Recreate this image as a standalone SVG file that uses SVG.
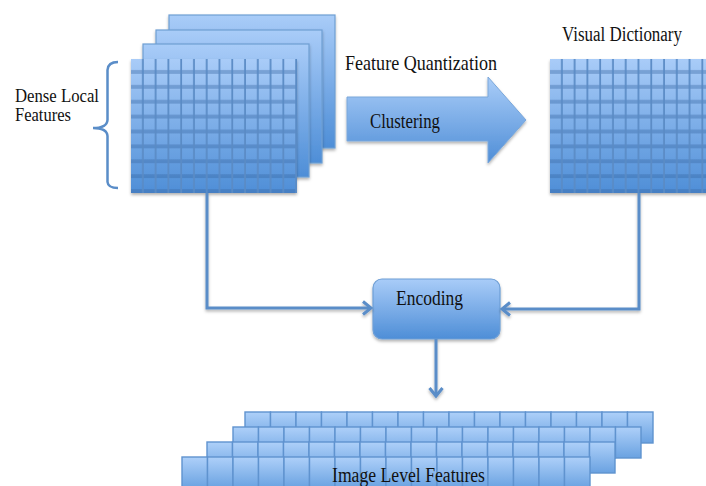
<svg xmlns="http://www.w3.org/2000/svg" xmlns:xlink="http://www.w3.org/1999/xlink" width="706" height="486" viewBox="0 0 706 486">
<style>
.lbl{font-family:"Liberation Serif","Times New Roman",serif;font-size:20px;fill:#111}
.conn{fill:none;stroke:#5a8dc8;stroke-width:3}
.sheet{fill:url(#gSheet);stroke:#6f9fd3;stroke-width:1.2}
.cell{fill:url(#gCell);stroke:#5f93cf;stroke-width:1.4}
</style>
<defs>
<linearGradient id="gSheet" x1="0" y1="0" x2="0" y2="1">
<stop offset="0" stop-color="#a9ccf8"/>
<stop offset="1" stop-color="#4e8ed7"/>
</linearGradient>
<linearGradient id="gCell" x1="0" y1="0" x2="0" y2="1">
<stop offset="0" stop-color="#aed0f9"/>
<stop offset="1" stop-color="#6aa2e1"/>
</linearGradient>
<linearGradient id="gArrow" x1="0" y1="0" x2="0" y2="1">
<stop offset="0" stop-color="#aacdf8"/>
<stop offset="1" stop-color="#4f8ed7"/>
</linearGradient>
<pattern id="pGrid" patternUnits="userSpaceOnUse" x="0" y="0" width="12.77" height="14.89">
<rect x="0" y="11.0" width="12.77" height="3.9" fill="#3a68a5" opacity="0.4"/>
<rect x="11.0" y="0" width="2.2" height="14.89" fill="#5a8bc5"/>
</pattern>
<filter id="sh" x="-10%" y="-10%" width="120%" height="130%">
<feDropShadow dx="0" dy="2" stdDeviation="1.5" flood-color="#000" flood-opacity="0.3"/>
</filter>
<marker id="arr" markerUnits="userSpaceOnUse" markerWidth="14" markerHeight="16" refX="10" refY="8" orient="auto">
<path d="M2,1.5 L10,8 L2,14.5" fill="none" stroke="#5a8dc8" stroke-width="3"/>
</marker>
<g id="row">
<rect class="cell" x="0" y="0" width="25.5" height="31"/>
<rect class="cell" x="25.5" y="0" width="25.5" height="31"/>
<rect class="cell" x="51" y="0" width="25.5" height="31"/>
<rect class="cell" x="76.5" y="0" width="25.5" height="31"/>
<rect class="cell" x="102" y="0" width="25.5" height="31"/>
<rect class="cell" x="127.5" y="0" width="25.5" height="31"/>
<rect class="cell" x="153" y="0" width="25.5" height="31"/>
<rect class="cell" x="178.5" y="0" width="25.5" height="31"/>
<rect class="cell" x="204" y="0" width="25.5" height="31"/>
<rect class="cell" x="229.5" y="0" width="25.5" height="31"/>
<rect class="cell" x="255" y="0" width="25.5" height="31"/>
<rect class="cell" x="280.5" y="0" width="25.5" height="31"/>
<rect class="cell" x="306" y="0" width="25.5" height="31"/>
<rect class="cell" x="331.5" y="0" width="25.5" height="31"/>
<rect class="cell" x="357" y="0" width="25.5" height="31"/>
<rect class="cell" x="382.5" y="0" width="25.5" height="31"/>
</g>
</defs>
<rect width="706" height="486" fill="#fff"/>

<g id="dense-local-features">
<rect class="sheet" x="169" y="15" width="166" height="133" filter="url(#sh)"/>
<rect class="sheet" x="156" y="30" width="166" height="133" filter="url(#sh)"/>
<rect class="sheet" x="143" y="44" width="166" height="133" filter="url(#sh)"/>
<g transform="translate(131,59)" filter="url(#sh)">
<rect x="0" y="0" width="166" height="134" fill="url(#gSheet)"/>
<rect x="0" y="0" width="166" height="134" fill="url(#pGrid)"/>
</g>
<path d="M118,62 Q108,62 107.5,70 V120 Q107,128 93,128 Q107,128 107.5,136 V182 Q108,188 118,188" fill="none" stroke="#5a8dc8" stroke-width="2.5"/>
<text class="lbl" x="15" y="101.5" style="font-size:18px" textLength="84" lengthAdjust="spacingAndGlyphs">Dense Local</text>
<text class="lbl" x="15" y="120.5" style="font-size:18px" textLength="56" lengthAdjust="spacingAndGlyphs">Features</text>
</g>

<g id="feature-quantization">
<polygon points="347,97 488,97 488,77 526,120 488,163 488,141 347,141" fill="url(#gArrow)" stroke="#7aa7da" stroke-width="1" filter="url(#sh)"/>
<text class="lbl" x="345" y="70" style="font-size:22px" textLength="152" lengthAdjust="spacingAndGlyphs">Feature Quantization</text>
<text class="lbl" x="370" y="128" textLength="70" lengthAdjust="spacingAndGlyphs">Clustering</text>
</g>

<g id="visual-dictionary">
<g transform="translate(550,59)" filter="url(#sh)">
<rect x="0" y="0" width="160" height="134" fill="url(#gSheet)"/>
<rect x="0" y="0" width="160" height="134" fill="url(#pGrid)"/>
</g>
<text class="lbl" x="562" y="40.5" textLength="120" lengthAdjust="spacingAndGlyphs">Visual Dictionary</text>
</g>

<g id="encoding">
<rect x="373" y="279" width="127" height="60" rx="9" fill="url(#gSheet)" stroke="#6d9ed6" stroke-width="1.2" filter="url(#sh)"/>
<text class="lbl" x="396" y="305" textLength="67" lengthAdjust="spacingAndGlyphs">Encoding</text>
</g>

<g id="image-level-features">
<use xlink:href="#row" x="245" y="412"/>
<use xlink:href="#row" x="233" y="427"/>
<use xlink:href="#row" x="207" y="442"/>
<use xlink:href="#row" x="182" y="457"/>
<text class="lbl" x="332" y="482" textLength="153" lengthAdjust="spacingAndGlyphs">Image Level Features</text>
</g>

<g id="connectors" filter="url(#sh)">
<path class="conn" d="M207,193 V308 H371" marker-end="url(#arr)"/>
<path class="conn" d="M639,193 V309 H502" marker-end="url(#arr)"/>
<path class="conn" d="M436,339 V396" marker-end="url(#arr)"/>
</g>
</svg>
